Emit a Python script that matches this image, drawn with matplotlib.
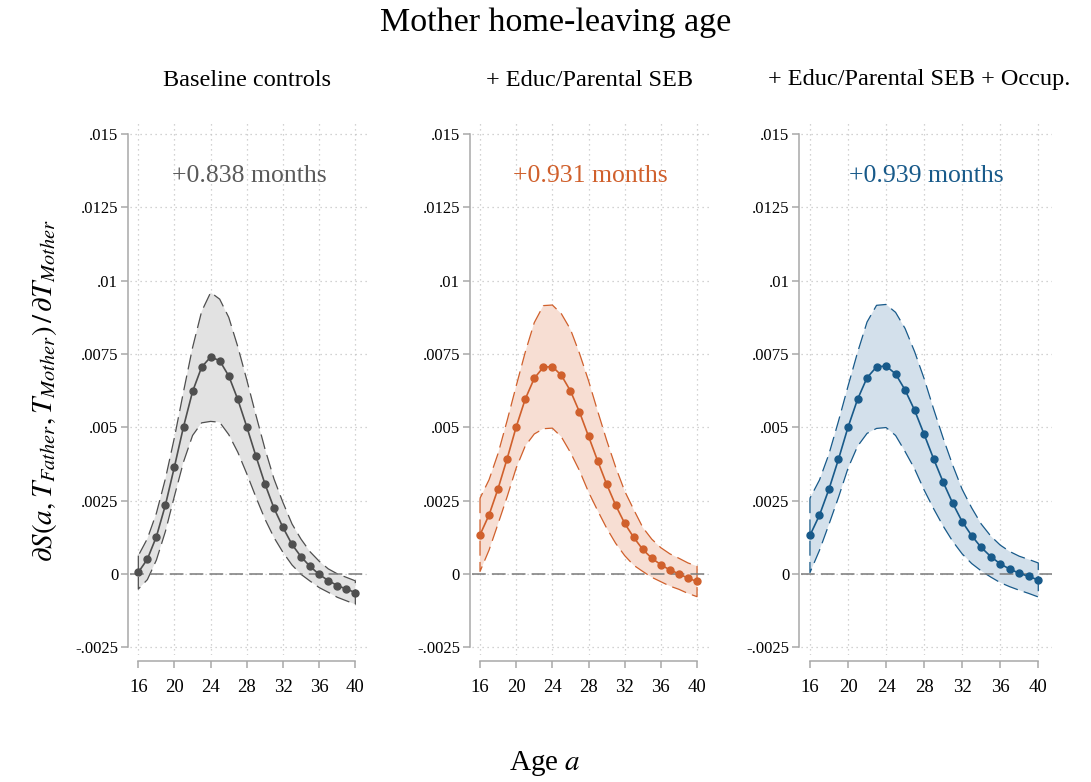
import numpy as np
import matplotlib.pyplot as plt

# --- Data (ages 16..40) ---
ages = list(range(16, 41))

# Baseline controls
base_est = [0.00005, 0.0005, 0.00127, 0.00235, 0.00366, 0.00502, 0.00622, 0.00705, 0.0074,
            0.00727, 0.00675, 0.00595, 0.00501, 0.00402, 0.00307, 0.00224, 0.00158, 0.001,
            0.00058, 0.00025, -0.00002, -0.00023, -0.0004, -0.00052, -0.00064]
base_lo = [-0.00052, -0.0002, 0.00047, 0.00145, 0.00266, 0.00382, 0.00472, 0.00515, 0.0052,
           0.00517, 0.00475, 0.00415, 0.00341, 0.00262, 0.00187, 0.00124, 0.00073, 0.0003,
           -0.00002, -0.00025, -0.00047, -0.00063, -0.0008, -0.00092, -0.00104]
base_hi = [0.00062, 0.0012, 0.00207, 0.00325, 0.00466, 0.00622, 0.00772, 0.00895, 0.0096,
           0.00937, 0.00875, 0.00775, 0.00661, 0.00542, 0.00427, 0.00324, 0.00243, 0.0017,
           0.00118, 0.00075, 0.00043, 0.00017, 0.0, -0.00012, -0.00024]

# + Educ/Parental SEB
educ_est = [0.00133, 0.00201, 0.00291, 0.00393, 0.00501, 0.00596, 0.00667, 0.00705, 0.00707,
            0.00677, 0.00624, 0.00552, 0.00469, 0.00386, 0.00306, 0.00234, 0.00172, 0.00124,
            0.00083, 0.00053, 0.00031, 0.00013, 0.0, -0.00015, -0.00026]
educ_lo = [0.00008, 0.00081, 0.00171, 0.00263, 0.00361, 0.00436, 0.00477, 0.00495, 0.00497,
           0.00467, 0.00414, 0.00352, 0.00279, 0.00216, 0.00156, 0.00104, 0.00062, 0.00029,
           0.00008, -0.00012, -0.00027, -0.00042, -0.00053, -0.00067, -0.00078]
educ_hi = [0.00258, 0.00321, 0.00411, 0.00523, 0.00641, 0.00756, 0.00857, 0.00915, 0.00917,
           0.00887, 0.00834, 0.00752, 0.00659, 0.00556, 0.00456, 0.00364, 0.00282, 0.00219,
           0.00158, 0.00118, 0.00089, 0.00068, 0.00053, 0.00037, 0.00026]

# + Educ/Parental SEB + Occup.
occ_est = [0.00131, 0.002, 0.00289, 0.00391, 0.005, 0.00595, 0.00669, 0.00706, 0.00709,
           0.00682, 0.00627, 0.00558, 0.00476, 0.00392, 0.00313, 0.00241, 0.00178, 0.0013,
           0.0009, 0.00059, 0.00034, 0.00016, 0.00002, -0.00009, -0.00021]
occ_lo = [0.00004, 0.0008, 0.00169, 0.00261, 0.0036, 0.00435, 0.00479, 0.00496, 0.00499,
          0.00472, 0.00417, 0.00358, 0.00286, 0.00222, 0.00163, 0.00111, 0.00068, 0.00035,
          0.0001, -0.00011, -0.0003, -0.00044, -0.00056, -0.00067, -0.00079]
occ_hi = [0.00258, 0.0032, 0.00409, 0.00521, 0.0064, 0.00755, 0.00859, 0.00916, 0.00919,
          0.00892, 0.00837, 0.00758, 0.00666, 0.00562, 0.00463, 0.00371, 0.00288, 0.00225,
          0.0017, 0.00129, 0.00098, 0.00076, 0.0006, 0.00049, 0.00037]

panel_titles = ["Baseline controls", "+ Educ/Parental SEB", "+ Educ/Parental SEB + Occup."]
effect_labels = ["+0.838 months", "+0.931 months", "+0.939 months"]

x_ticks = [16, 20, 24, 28, 32, 36, 40]
y_ticks = [-0.0025, 0, 0.0025, 0.005, 0.0075, 0.01, 0.0125, 0.015]
y_ticklabels = ["-.0025", "0", ".0025", ".005", ".0075", ".01", ".0125", ".015"]

# warna: garis, isian pita
line_colors = ["#4f4f4f", "#d0602c", "#185a8a"]
fill_colors = ["#e2e2e2", "#f7ded3", "#d3e0eb"]

panels = [(base_est, base_lo, base_hi), (educ_est, educ_lo, educ_hi), (occ_est, occ_lo, occ_hi)]

plt.rcParams['font.family'] = ['Liberation Serif', 'DejaVu Serif']
plt.rcParams['mathtext.fontset'] = 'stix'

W, H = 1091, 782
fig = plt.figure(figsize=(W / 100, H / 100), dpi=100)

# posisi panel dalam piksel (kiri, kanan), atas/bawah sama untuk semua
panel_px = [(130, 368), (471.7, 709.7), (801.2, 1051.6)]
top_px, bot_px = 123, 655
axis_gray = "#a8a8a8"

for i, (est, lo, hi) in enumerate(panels):
    left, right = panel_px[i]
    ax = fig.add_axes([left / W, 1 - bot_px / H, (right - left) / W, (bot_px - top_px) / H])

    ax.fill_between(ages, lo, hi, facecolor=fill_colors[i], edgecolor=line_colors[i],
                    linestyle=(0, (12, 5)), linewidth=0.9, zorder=2)
    ax.axhline(0, color="#7a7a7a", linewidth=1.1, linestyle=(0, (9, 4)), zorder=2.5)
    ax.plot(ages, est, color=line_colors[i], marker='o', markersize=5, linewidth=1.2, zorder=3)

    ax.text(0.5, 0.9, effect_labels[i], transform=ax.transAxes, ha='center', va='center',
            fontsize=18.5, color=line_colors[i] if i > 0 else "#5a5a5a")

    ax.set_xlim(15.08, 41.4)
    ax.set_ylim(-0.00277, 0.01538)
    ax.set_xticks(x_ticks)
    ax.set_yticks(y_ticks)
    ax.set_yticklabels(y_ticklabels)

    ax.grid(True, color="#c4c4c4", linestyle=(0, (1, 3)), linewidth=0.9)
    ax.set_axisbelow(True)

    for s in ['top', 'right']:
        ax.spines[s].set_visible(False)
    ax.spines['left'].set_position(('outward', 1.5))
    ax.spines['left'].set_bounds(-0.0025, 0.015)
    ax.spines['bottom'].set_position(('outward', 4.3))
    ax.spines['bottom'].set_bounds(16, 40)
    for s in ['left', 'bottom']:
        ax.spines[s].set_color(axis_gray)
        ax.spines[s].set_linewidth(1.1)

    ax.tick_params(axis='y', length=5, width=1.1, color=axis_gray, labelsize=12, pad=2)
    ax.tick_params(axis='x', length=5, width=1.1, color=axis_gray, labelsize=13.5, pad=8)

# judul-judul
fig.text(556 / W, 1 - 23 / H, "Mother home-leaving age", ha='center', va='center', fontsize=24.5)
sub_x = [247, 589, 919]
for i, t in enumerate(panel_titles):
    fig.text(sub_x[i] / W, 1 - 80 / H, t, ha='center', va='center', fontsize=17.5)

fig.text(545 / W, 1 - 763 / H, r"Age $a$", ha='center', va='center', fontsize=21)
fig.text(45 / W, 1 - 390 / H, r"$\partial S(a,T_{Father},T_{Mother})\,/\,\partial T_{Mother}$",
         ha='center', va='center', rotation=90, fontsize=21)

fig.savefig("out.png", dpi=100)
